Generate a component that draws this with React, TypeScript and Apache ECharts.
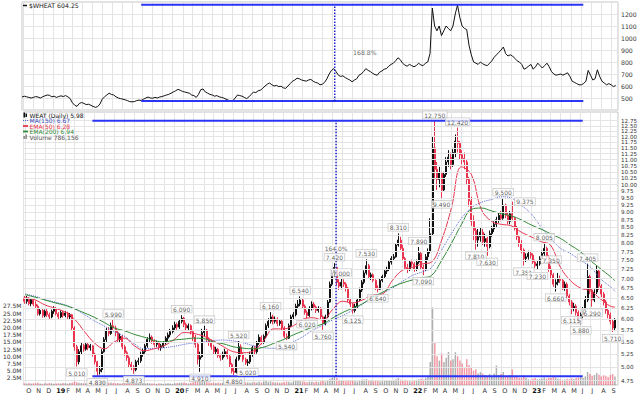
import React, { useEffect, useRef } from 'react';
import * as echarts from 'echarts';

const FONT = 'DejaVu Sans';
const RED = '#e8344e';
const GREEN = '#2f8a35';
const MA_BLUE = '#5566d0';
const LINE_BLUE = '#2b35f5';
const GRID = '#e4e4e4';
const DAY = 86400000;

const X_MIN = '2018-09-28';
const X_MAX = '2023-09-22';

const monthLetters = ['J', 'F', 'M', 'A', 'M', 'J', 'J', 'A', 'S', 'O', 'N', 'D'];

// Weekly WEAT bars (week ending Friday, from 2018-09-28): [open, close, low, high]
const weatOHLC: number[][] = [
  [6.50,6.42,6.36,6.55],
  [6.42,6.48,6.36,6.55],[6.48,6.36,6.32,6.52],[6.36,6.46,6.30,6.50],[6.46,6.35,6.30,6.50],
  [6.35,6.30,6.24,6.42],[6.30,6.12,6.08,6.34],[6.12,6.20,6.08,6.26],[6.20,6.08,6.03,6.24],[6.08,6.18,6.04,6.22],
  [6.18,6.10,6.05,6.24],[6.10,6.05,6.00,6.15],[6.05,6.18,6.02,6.22],[6.18,6.25,6.12,6.30],
  // 2019
  [6.25,6.12,6.08,6.28],[6.12,6.05,6.00,6.16],[6.05,6.15,6.02,6.20],[6.15,6.08,6.03,6.19],
  [6.08,6.14,6.04,6.18],[6.14,6.05,6.00,6.17],[6.05,6.10,6.00,6.14],[6.10,5.80,5.74,6.12],
  [5.80,5.40,5.32,5.84],[5.40,5.10,5.01,5.44],[5.10,5.30,5.05,5.35],[5.30,5.42,5.25,5.48],[5.42,5.35,5.30,5.46],
  [5.35,5.45,5.32,5.50],[5.45,5.38,5.33,5.48],[5.38,5.42,5.32,5.46],[5.42,5.25,5.20,5.44],
  [5.25,5.10,5.05,5.28],[5.10,4.92,4.83,5.12],[4.92,4.95,4.86,5.02],[4.95,5.30,4.90,5.35],[5.30,5.55,5.28,5.60],
  [5.55,5.75,5.50,5.80],[5.75,5.68,5.62,5.82],[5.68,5.85,5.65,5.92],[5.85,5.80,5.74,5.99],
  [5.80,5.70,5.62,5.85],[5.70,5.55,5.50,5.74],[5.55,5.62,5.48,5.68],[5.62,5.40,5.35,5.65],
  [5.40,5.28,5.22,5.44],[5.28,5.18,5.12,5.32],[5.18,5.05,5.00,5.22],[5.05,5.00,4.94,5.10],[5.00,4.95,4.873,5.04],
  [4.95,5.10,4.92,5.14],[5.10,5.12,5.04,5.18],[5.12,5.25,5.08,5.30],[5.25,5.30,5.20,5.36],
  [5.30,5.42,5.26,5.46],[5.42,5.55,5.38,5.60],[5.55,5.60,5.50,5.68],[5.60,5.52,5.46,5.64],
  [5.52,5.45,5.40,5.56],[5.45,5.48,5.40,5.53],[5.48,5.38,5.33,5.52],[5.38,5.42,5.32,5.46],[5.42,5.48,5.38,5.52],
  [5.48,5.58,5.44,5.62],[5.58,5.65,5.52,5.70],[5.65,5.72,5.60,5.78],[5.72,5.80,5.68,5.86],
  // 2020
  [5.80,5.88,5.75,5.94],[5.88,5.82,5.76,5.92],[5.82,5.95,5.78,6.00],[5.95,6.02,5.90,6.09],[6.02,5.88,5.82,6.05],
  [5.88,5.80,5.74,5.92],[5.80,5.85,5.75,5.90],[5.85,5.72,5.66,5.88],[5.72,5.60,5.52,5.76],
  [5.60,5.45,5.38,5.65],[5.45,5.15,5.05,5.48],[5.15,5.20,4.91,5.30],[5.20,5.70,5.18,5.78],
  [5.70,5.75,5.62,5.85],[5.75,5.55,5.50,5.78],[5.55,5.50,5.42,5.60],[5.50,5.40,5.34,5.54],
  [5.40,5.30,5.24,5.44],[5.30,5.35,5.25,5.40],[5.35,5.22,5.18,5.38],[5.22,5.18,5.12,5.26],[5.18,5.25,5.14,5.30],
  [5.25,5.30,5.20,5.36],[5.30,5.20,5.15,5.34],[5.20,5.05,5.00,5.24],[5.05,4.92,4.88,5.08],
  [4.92,4.90,4.85,4.98],[4.90,5.15,4.88,5.20],[5.15,5.40,5.12,5.52],[5.40,5.25,5.20,5.45],[5.25,5.15,5.10,5.28],
  [5.15,5.08,5.04,5.18],[5.08,5.10,5.02,5.15],[5.10,5.25,5.06,5.30],[5.25,5.38,5.20,5.42],
  [5.38,5.30,5.25,5.42],[5.30,5.48,5.26,5.52],[5.48,5.60,5.44,5.66],[5.60,5.50,5.45,5.64],
  [5.50,5.62,5.46,5.66],[5.62,5.85,5.58,5.90],[5.85,5.95,5.80,6.02],[5.95,6.05,5.90,6.16],[6.05,5.95,5.88,6.10],
  [5.95,6.00,5.90,6.06],[6.00,5.90,5.84,6.04],[5.90,5.95,5.85,6.00],[5.95,5.80,5.74,5.98],
  [5.80,5.62,5.58,5.84],[5.62,5.58,5.54,5.68],[5.58,5.85,5.56,5.90],[5.85,6.05,5.82,6.10],
  // 2021
  [6.05,6.10,6.00,6.16],[6.10,6.30,6.06,6.36],[6.30,6.35,6.24,6.45],[6.35,6.45,6.30,6.54],[6.45,6.30,6.24,6.48],
  [6.30,6.15,6.10,6.34],[6.15,6.08,6.02,6.20],[6.08,6.25,6.05,6.30],[6.25,6.35,6.20,6.42],
  [6.35,6.28,6.22,6.40],[6.28,6.20,6.14,6.32],[6.20,6.25,6.15,6.30],[6.25,6.05,6.00,6.28],
  [6.05,5.90,5.76,6.08],[5.90,6.05,5.86,6.10],[6.05,6.40,6.02,6.45],[6.40,6.85,6.38,6.92],[6.85,7.15,6.80,7.25],
  [7.15,7.30,7.05,7.42],[7.30,6.90,6.82,7.32],[6.90,6.80,6.70,6.98],[6.80,6.90,6.72,7.00],
  [6.90,6.85,6.78,6.98],[6.85,6.75,6.66,6.90],[6.75,6.45,6.40,6.78],[6.45,6.35,6.28,6.50],
  [6.35,6.20,6.125,6.38],[6.20,6.30,6.15,6.36],[6.30,6.45,6.25,6.50],[6.45,6.70,6.42,6.76],[6.70,6.90,6.65,6.96],
  [6.90,7.15,6.85,7.22],[7.15,7.35,7.10,7.53],[7.35,7.05,7.00,7.40],[7.05,7.10,6.96,7.16],
  [7.10,6.95,6.90,7.14],[6.95,6.75,6.70,6.98],[6.75,6.72,6.64,6.82],[6.72,6.95,6.70,7.00],
  [6.95,7.05,6.90,7.10],[7.05,7.20,7.00,7.26],[7.20,7.25,7.12,7.32],[7.25,7.45,7.20,7.50],[7.45,7.55,7.38,7.62],
  [7.55,7.60,7.48,7.68],[7.60,7.95,7.58,8.00],[7.95,8.10,7.90,8.31],[8.10,7.85,7.80,8.20],
  [7.85,7.55,7.50,7.95],[7.55,7.30,7.25,7.60],[7.30,7.25,7.15,7.40],[7.25,7.45,7.20,7.50],[7.45,7.40,7.32,7.52],
  // 2022
  [7.40,7.25,7.18,7.45],[7.25,7.45,7.20,7.52],[7.45,7.70,7.40,7.89],[7.70,7.30,7.25,7.75],
  [7.30,7.25,7.09,7.38],[7.25,7.60,7.20,7.68],[7.60,7.75,7.50,7.85],[7.75,8.30,7.70,8.80],
  [8.30,11.50,8.25,12.00],[11.50,10.60,10.20,12.75],[10.60,10.20,9.80,10.90],[10.20,10.45,9.90,10.70],
  [10.45,9.80,9.49,10.50],[9.80,10.40,9.75,10.50],[10.40,10.90,10.30,11.10],[10.90,11.10,10.70,11.40],[11.10,10.80,10.60,11.30],
  [10.80,11.30,10.70,11.50],[11.30,11.80,11.10,12.10],[11.80,11.70,11.30,12.42],[11.70,11.20,11.00,11.80],
  [11.20,11.05,10.80,11.40],[11.05,10.90,10.60,11.30],[10.90,10.20,10.00,11.00],[10.20,9.40,9.20,10.30],
  [9.40,8.70,8.55,9.55],[8.70,8.40,8.10,8.90],[8.40,8.10,7.81,8.50],[8.10,8.20,7.90,8.45],[8.20,8.35,8.05,8.50],
  [8.35,8.05,7.95,8.45],[8.05,8.15,7.90,8.30],[8.15,7.90,7.63,8.20],[7.90,8.30,7.85,8.40],
  [8.30,8.45,8.20,8.55],[8.45,8.60,8.35,8.70],[8.60,8.75,8.50,8.85],[8.75,8.90,8.65,9.00],[8.90,8.80,8.70,9.05],
  [8.80,9.25,8.75,9.50],[9.25,8.90,8.80,9.30],[8.90,8.70,8.60,9.00],[8.70,8.95,8.60,9.05],
  [8.95,8.80,8.70,9.375],[8.80,8.50,8.40,8.85],[8.50,8.20,8.10,8.55],[8.20,8.00,7.90,8.25],
  [8.00,7.80,7.70,8.10],[7.80,7.55,7.351,7.85],[7.55,7.60,7.45,7.70],[7.60,7.70,7.52,7.78],[7.70,7.65,7.55,7.75],
  // 2023
  [7.65,7.45,7.40,7.70],[7.45,7.35,7.28,7.52],[7.35,7.40,7.23,7.48],[7.40,7.55,7.35,7.62],
  [7.55,7.70,7.48,7.78],[7.70,7.85,7.62,8.005],[7.85,7.60,7.52,7.90],[7.60,7.25,7.18,7.65],
  [7.25,7.10,7.00,7.35],[7.10,6.85,6.78,7.15],[6.85,6.90,6.66,6.98],[6.90,7.00,6.82,7.15],[7.00,6.95,6.88,7.08],
  [6.95,6.75,6.70,7.00],[6.75,6.85,6.68,6.92],[6.85,6.55,6.50,6.90],[6.55,6.40,6.32,6.60],
  [6.40,6.25,6.115,6.45],[6.25,6.30,6.18,6.38],[6.30,6.15,6.08,6.35],[6.15,6.00,5.92,6.20],
  [6.00,6.10,5.88,6.15],[6.10,6.20,6.02,6.28],[6.20,6.45,6.15,6.55],[6.45,7.05,6.40,7.405],[7.05,6.70,6.60,7.10],
  [6.70,6.45,6.29,6.75],[6.45,6.65,6.40,6.72],[6.65,7.20,6.60,7.35],[7.20,6.80,6.70,7.25],
  [6.80,6.60,6.52,6.85],[6.60,6.40,6.32,6.65],[6.40,6.20,6.12,6.45],[6.20,6.10,6.02,6.25],
  [6.10,5.95,5.88,6.15],[5.95,5.80,5.71,6.00],[5.80,5.98,5.75,6.02],
];

// Weekly WEAT volume, millions of shares
const weatVolumeM: number[] = [
  0.6, 0.5,0.7,0.5,0.6, 0.6,0.8,0.5,0.4,0.6, 0.5,0.7,0.6,0.4,
  0.5,0.6,0.5,0.7, 0.6,0.5,0.7,0.9, 1.2,1.0,0.8,0.7,0.6, 0.6,0.5,0.7,0.6, 0.8,1.1,1.0,1.3,1.2, 1.0,0.8,0.9,0.7,
  0.6,0.7,0.5,0.6, 0.7,0.6,0.8,0.7,0.9, 0.7,0.6,0.5,0.6, 0.5,0.7,0.6,0.5, 0.5,0.4,0.6,0.5,0.4, 0.5,0.6,0.5,0.4,
  0.6,0.7,0.8,0.9,0.8, 0.7,0.6,0.8,0.9, 1.2,1.6,1.8,1.5, 1.2,1.0,0.9,0.8, 0.8,0.7,0.9,0.7,0.8, 0.9,0.8,1.0,1.2,
  1.1,1.3,1.0,0.9,0.8, 0.9,1.0,0.8,0.9, 1.0,0.9,1.1,0.9, 1.2,1.4,1.1,1.3,1.0, 0.9,1.0,0.8,0.9, 1.0,1.2,1.1,0.9,
  1.2,1.6,1.4,1.3,1.2, 1.1,1.0,1.2,1.1, 1.0,1.2,1.1,1.3, 1.4,1.2,1.6,2.2,2.4, 2.8,2.5,1.8,1.5, 1.4,1.3,1.6,1.4,
  1.5,1.3,1.2,1.6,1.8, 1.9,2.1,1.6,1.4, 1.3,1.5,1.4,1.2, 1.3,1.5,1.4,1.7,1.6, 1.8,2.0,2.4,1.9, 1.7,1.8,1.6,1.3,1.2,
  1.6,1.8,2.0,2.2, 1.9,2.4,2.8,8.0, 27.0,15.0,10.0,8.5, 11.0,8.0,9.5,11.5,8.5, 9.0,11.4,10.0,8.5, 7.5,6.0,9.0,7.0,
  6.0,5.0,5.5,4.0,4.5, 4.0,3.5,3.0,3.8, 3.2,4.0,6.8,3.5,3.8, 4.5,3.2,3.0,3.5, 5.4,3.0,2.8,2.5, 2.4,3.3,2.5,2.0,1.8,
  2.2,2.4,2.0,2.1, 2.3,2.6,2.2,2.5, 2.4,2.8,2.6,2.2,2.0, 1.8,1.9,2.2,2.0, 2.3,2.1,2.4,2.6, 2.8,2.5,3.0,4.5,3.8,
  3.2,3.5,4.2,3.6, 3.0,3.4,3.2,2.8, 3.5,3.8,3.0,
];

// Weekly $WHEAT close, cents
const wheatClose: number[] = [
  508, 515,510,505,500, 505,512,508,500,510, 518,525,522,510,
  515,505,512,518, 512,520,510,495, 460,440,430,455,462, 455,445,448,440, 430,422,428,450,490, 510,525,540,530,
  525,510,500,495, 490,485,478,470,468, 470,478,482,480, 490,500,508,500, 498,505,500,508,512, 518,525,530,540,
  550,560,572,565,555, 550,545,540,525, 520,505,530,570, 575,550,540,530, 525,515,520,510,505, 500,490,482,475,
  478,500,525,520,515, 505,495,510,530, 550,545,560,565, 580,600,615,625,610, 600,605,595,598, 585,580,600,620,
  640,650,665,660,650, 645,640,650,655, 640,630,625,610, 615,630,660,700,730, 745,720,690,680, 685,670,660,650,
  635,650,660,690,700, 720,745,730,720, 705,695,690,715, 725,740,745,765,780, 790,810,835,820, 790,775,765,780,770,
  760,770,790,775, 770,790,800,870, 1250,1100,1060,1100, 1020,1060,1100,1080,1060, 1100,1200,1275,1170, 1100,1080,1070,940,
  860,800,790,780,800, 785,775,770,790, 810,840,860,880,900, 925,870,850,860, 850,830,810,800, 780,740,750,765,780,
  740,760,790,770, 750,770,790,760, 720,700,690,695,700, 690,700,710,680, 640,630,620,610, 610,620,640,730,690,
  650,660,735,680, 640,625,610,620, 610,595,604,
];

// Moving averages read at the 1st of each month (Oct 2018 .. Sep 2023), then 2023-09-15
const ema50: number[] = [
  6.52,6.45,6.33, 6.25,6.16,6.00,5.72,5.48,5.36,5.50,5.58,5.42,5.32,5.36,5.42,
  5.55,5.70,5.68,5.62,5.52,5.40,5.30,5.28,5.32,5.52,5.78,5.78,
  5.85,6.00,6.03,5.98,6.22,6.42,6.38,6.45,6.57,6.60,6.95,7.22,
  7.30,7.40,7.45,8.10,9.15,10.70,10.40,9.10,8.70,8.60,8.55,8.35,
  8.20,8.05,7.95,7.30,6.95,6.75,6.68,6.48,6.30, 6.28,
];
const ma150: number[] = [
  6.60,6.54,6.46, 6.40,6.33,6.24,6.10,5.96,5.84,5.72,5.62,5.46,5.36,5.37,5.38,
  5.41,5.45,5.48,5.50,5.53,5.54,5.52,5.48,5.42,5.38,5.37,5.38,
  5.50,5.62,5.75,5.86,5.98,6.08,6.20,6.35,6.50,6.62,6.75,6.92,
  7.08,7.18,7.30,7.80,8.30,8.80,9.15,9.35,9.45,9.55,9.50,9.25,
  8.95,8.50,8.15,7.85,7.70,7.50,7.32,7.00,6.78, 6.67,
];
const ema200: number[] = [
  6.58,6.52,6.45, 6.38,6.32,6.24,6.14,6.04,5.92,5.80,5.74,5.66,5.60,5.53,5.50,
  5.54,5.56,5.58,5.57,5.50,5.46,5.40,5.37,5.36,5.39,5.47,5.55,
  5.65,5.74,5.82,5.89,6.02,6.15,6.25,6.36,6.52,6.64,6.78,6.88,
  6.96,7.02,7.08,7.50,8.00,8.60,9.10,9.15,9.05,8.96,8.88,8.75,
  8.58,8.44,8.30,8.15,7.95,7.75,7.50,7.27,7.05, 6.94,
];

// Price-axis tick labels (log scale)
const priceTicks: number[] = [
  12.75,12.50,12.25,12.00,11.75,11.50,11.25,11.00,10.75,10.50,10.25,10.00,9.75,9.50,9.25,9.00,
  8.75,8.50,8.25,8.00,7.75,7.50,7.25,7.00,6.75,6.50,6.25,6.00,5.75,5.50,5.25,5.00,4.75,
];

// Labeled swing highs / lows [date, price]
const highMarks: [string, number][] = [
  ['2019-06-28',5.99],['2020-01-24',6.09],['2020-04-03',5.85],['2020-07-17',5.52],['2020-10-23',6.16],
  ['2021-01-22',6.54],['2021-05-07',7.42],['2021-05-28',7.00],['2021-08-13',7.53],['2021-11-19',8.31],
  ['2022-01-21',7.89],['2022-03-11',12.75],['2022-05-20',12.42],['2022-10-07',9.50],['2022-11-04',9.375],
  ['2023-02-10',8.005],['2023-03-03',7.35],['2023-06-23',7.405],
];
const lowMarks: [string, number][] = [
  ['2019-03-08',5.01],['2019-05-10',4.83],['2019-08-30',4.873],['2020-03-20',4.91],['2020-07-03',4.85],
  ['2020-08-14',5.02],['2020-12-11',5.54],['2021-02-12',6.02],['2021-04-02',5.76],['2021-07-02',6.125],
  ['2021-09-17',6.64],['2022-02-04',7.09],['2022-04-01',9.49],['2022-07-15',7.81],['2022-08-19',7.63],
  ['2022-12-09',7.351],['2023-01-20',7.23],['2023-03-17',6.66],['2023-05-05',6.115],['2023-06-02',5.88],
  ['2023-07-07',6.29],['2023-09-08',5.71],
];
// label side overrides (styling) for crowded annotations
const labelSide: Record<string, string> = { '2022-11-04': 'right' };

// Drawn range annotations
const wheatRange = { start: '2019-09-27', end: '2023-06-08', low: 475, high: 1277, pivot: '2021-05-10', pct: '168.8%', textAt: '2021-08-10', textLevel: 883 };
const weatRange = { start: '2019-04-25', end: '2023-06-08', low: 4.83, high: 12.75, pivot: '2021-05-12', pct: '164.0%', textAt: '2021-05-12', textLevel: 7.86 };

const topLegend = '$WHEAT 604.25';
const legendRows = [
  { text: 'WEAT (Daily) 5.98', color: '#111', icon: 'candle' },
  { text: 'MA(150) 6.67', color: '#3646b8', icon: 'dotted' },
  { text: 'EMA(50) 6.28', color: RED, icon: 'red' },
  { text: 'EMA(200) 6.94', color: GREEN, icon: 'green' },
  { text: 'Volume 786,156', color: '#555', icon: 'volume' },
];

function weekTime(i: number) {
  return new Date(2018, 8, 28 + 7 * i).getTime();
}
function maTime(i: number) {
  return i < 60 ? new Date(2018, 9 + i, 1).getTime() : new Date(2023, 8, 15).getTime();
}

function txt(x: number, y: number, text: string, fill: string, size = 6.2, weight = 'normal') {
  return {
    type: 'text', x, y, silent: true, z: 50,
    style: { text, fill, fontSize: size, fontFamily: FONT, fontWeight: weight, verticalAlign: 'middle', textVerticalAlign: 'middle', align: 'left', textAlign: 'left' },
  };
}
function seg(x1: number, y1: number, x2: number, y2: number, stroke: string, lineWidth = 1.5, lineDash?: number[]) {
  return { type: 'line', silent: true, z: 50, shape: { x1, y1, x2, y2 }, style: { stroke, lineWidth, lineDash } };
}

export default function App() {
  const ref = useRef<HTMLDivElement>(null);

  useEffect(() => {
    const chart = echarts.init(ref.current as HTMLDivElement, null, { renderer: 'svg' });

    const candleData = weatOHLC.map((b, i) => [weekTime(i), b[0], b[1], b[2], b[3]]);
    const volData = weatVolumeM.map((v, i) => {
      const b = weatOHLC[i];
      const up = b[1] >= b[0];
      return { value: [weekTime(i), v], itemStyle: { color: up ? 'rgba(110,110,110,0.55)' : 'rgba(232,52,78,0.5)' } };
    });
    const wheatData = wheatClose.map((v, i) => [weekTime(i), v]);
    const maSeries = (vals: number[]) => vals.map((v, i) => [maTime(i), v]);
    const markData = (marks: [string, number][]) =>
      marks.map((m) => (labelSide[m[0]] ? { value: [m[0], m[1]], label: { position: labelSide[m[0]] } } : { value: [m[0], m[1]] }));

    const monthFormatter = (value: number) => {
      const d = new Date(value);
      const m = d.getMonth();
      return m === 0 ? `{y|${String(d.getFullYear()).slice(2)}}` : monthLetters[m];
    };

    const markLabel = (pos: string) => ({
      show: true,
      position: pos,
      distance: 2,
      formatter: (p: any) => Number(p.value[1]).toFixed(3),
      fontSize: 6,
      fontFamily: FONT,
      color: '#333',
      backgroundColor: 'rgba(255,255,255,0.92)',
      borderColor: '#b8b8b8',
      borderWidth: 0.6,
      padding: [1, 1.5, 0, 1.5],
    });

    const graphic: any[] = [
      seg(23, 5.5, 27, 5.5, '#111', 1.5),
      txt(29, 5.5, topLegend, '#222'),
    ];
    legendRows.forEach((r, i) => {
      const y = 115 + i * 5.5;
      if (r.icon === 'candle') {
        graphic.push({ type: 'rect', silent: true, z: 50, shape: { x: 23.5, y: y - 2.5, width: 1.5, height: 5 }, style: { fill: '#111' } });
        graphic.push({ type: 'rect', silent: true, z: 50, shape: { x: 25.5, y: y - 1.5, width: 1.5, height: 3.5 }, style: { fill: '#111' } });
      } else if (r.icon === 'dotted') {
        graphic.push(seg(23, y, 28, y, MA_BLUE, 1.2, [1, 1]));
      } else if (r.icon === 'red') {
        graphic.push(seg(23, y, 28, y, RED, 1.8));
      } else if (r.icon === 'green') {
        graphic.push(seg(23, y, 28, y, GREEN, 1.8));
      } else {
        graphic.push({ type: 'rect', silent: true, z: 50, shape: { x: 23.5, y: y - 1, width: 1.3, height: 3 }, style: { fill: '#777' } });
        graphic.push({ type: 'rect', silent: true, z: 50, shape: { x: 25.5, y: y - 2.5, width: 1.3, height: 4.5 }, style: { fill: '#777' } });
      }
      graphic.push(txt(29.5, y, r.text, r.color, 6));
    });

    const option: any = {
      animation: false,
      backgroundColor: '#ffffff',
      textStyle: { fontFamily: FONT },
      grid: [
        { left: 22, right: 22, top: 2, height: 108, show: true, borderColor: '#c4c4c4', borderWidth: 1, backgroundColor: 'transparent' },
        { left: 22, right: 22, top: 112, height: 273, show: true, borderColor: '#c4c4c4', borderWidth: 1, backgroundColor: 'transparent' },
      ],
      xAxis: [
        {
          type: 'time', gridIndex: 0, min: X_MIN, max: X_MAX, splitNumber: 60, minInterval: 28 * DAY, maxInterval: 31 * DAY,
          axisLabel: { show: false }, axisTick: { show: false }, axisLine: { show: false },
          splitLine: { show: true, lineStyle: { color: GRID, width: 1 } },
        },
        {
          type: 'time', gridIndex: 1, min: X_MIN, max: X_MAX, splitNumber: 60, minInterval: 28 * DAY, maxInterval: 31 * DAY,
          axisLabel: {
            show: true, formatter: monthFormatter, fontSize: 6.5, color: '#333', align: 'left', margin: 2,
            padding: [0, 0, 0, 1], fontFamily: FONT,
            rich: { y: { fontWeight: 'bold', fontSize: 6.5, color: '#111', fontFamily: FONT } },
          },
          axisTick: { show: false }, axisLine: { show: false },
          splitLine: { show: true, lineStyle: { color: GRID, width: 1 } },
        },
      ],
      yAxis: [
        {
          type: 'value', gridIndex: 0, min: 400, max: 1300, interval: 100, position: 'right',
          axisLabel: { formatter: (v: number) => (v >= 500 && v <= 1200 ? String(v) : ''), fontSize: 6.2, color: '#333', margin: 3, fontFamily: FONT },
          splitLine: { show: true, lineStyle: { color: GRID } }, axisLine: { show: false }, axisTick: { show: false },
        },
        {
          type: 'log', gridIndex: 1, min: 4.67, max: 13.18, position: 'right',
          axisLabel: { show: false }, splitLine: { show: false }, axisLine: { show: false }, axisTick: { show: false },
        },
        {
          type: 'value', gridIndex: 1, min: 0, max: 95, interval: 2.5, position: 'left',
          axisLabel: { formatter: (v: number) => (v > 0 && v <= 27.5 ? v.toFixed(1) + 'M' : ''), fontSize: 6, color: '#333', margin: 2, fontFamily: FONT },
          splitLine: { show: false }, axisLine: { show: false }, axisTick: { show: false },
        },
      ],
      series: [
        // ---------- top panel ----------
        {
          type: 'line', name: '$WHEAT', xAxisIndex: 0, yAxisIndex: 0, data: wheatData, symbol: 'none',
          lineStyle: { color: '#111', width: 1 }, silent: true, z: 3,
        },
        {
          type: 'line', xAxisIndex: 0, yAxisIndex: 0, symbol: 'none', silent: true, z: 4,
          data: [[wheatRange.start, wheatRange.high], [wheatRange.end, wheatRange.high]],
          lineStyle: { color: LINE_BLUE, width: 2 },
        },
        {
          type: 'line', xAxisIndex: 0, yAxisIndex: 0, symbol: 'none', silent: true, z: 4,
          data: [[wheatRange.start, wheatRange.low], [wheatRange.end, wheatRange.low]],
          lineStyle: { color: LINE_BLUE, width: 2 },
        },
        {
          type: 'line', xAxisIndex: 0, yAxisIndex: 0, symbol: 'none', silent: true, z: 4,
          data: [[wheatRange.pivot, wheatRange.low], [wheatRange.pivot, wheatRange.high]],
          lineStyle: { color: '#1f1fc8', width: 1.5, type: 'dotted' },
        },
        {
          type: 'scatter', xAxisIndex: 0, yAxisIndex: 0, symbolSize: 1, itemStyle: { color: 'transparent' }, silent: true, z: 6,
          data: [{ name: wheatRange.pct, value: [wheatRange.textAt, wheatRange.textLevel] }],
          label: { show: true, position: 'inside', formatter: '{b}', fontSize: 6.2, color: '#333', fontFamily: FONT },
        },
        // ---------- bottom panel ----------
        {
          type: 'line', xAxisIndex: 1, yAxisIndex: 1, data: [[X_MIN, 6]], symbol: 'none', silent: true, z: 1,
          lineStyle: { opacity: 0 },
          markLine: {
            silent: true, symbol: ['none', 'none'], animation: false,
            lineStyle: { color: GRID, width: 1, type: 'solid' },
            label: { show: true, position: 'end', distance: 3, formatter: (p: any) => Number(p.value).toFixed(2), fontSize: 5.6, color: '#333', fontFamily: FONT },
            emphasis: { disabled: true },
            data: priceTicks.map((v) => ({ yAxis: v })),
          },
        },
        {
          type: 'bar', name: 'Volume', xAxisIndex: 1, yAxisIndex: 2, data: volData, barWidth: 1.5, silent: true, z: 2,
        },
        {
          type: 'candlestick', name: 'WEAT', xAxisIndex: 1, yAxisIndex: 1, data: candleData, barWidth: 1.5, silent: true, z: 3,
          itemStyle: { color: '#111', color0: RED, borderColor: '#111', borderColor0: RED, borderWidth: 1 },
        },
        {
          type: 'line', name: 'MA(150)', xAxisIndex: 1, yAxisIndex: 1, data: maSeries(ma150), symbol: 'none', smooth: 0.4, silent: true, z: 4,
          lineStyle: { color: MA_BLUE, width: 1, type: 'dotted' },
        },
        {
          type: 'line', name: 'EMA(50)', xAxisIndex: 1, yAxisIndex: 1, data: maSeries(ema50), symbol: 'none', smooth: 0.4, silent: true, z: 4,
          lineStyle: { color: RED, width: 1 },
        },
        {
          type: 'line', name: 'EMA(200)', xAxisIndex: 1, yAxisIndex: 1, data: maSeries(ema200), symbol: 'none', smooth: 0.4, silent: true, z: 4,
          lineStyle: { color: GREEN, width: 1 },
        },
        {
          type: 'line', xAxisIndex: 1, yAxisIndex: 1, symbol: 'none', silent: true, z: 5,
          data: [[weatRange.start, weatRange.high], [weatRange.end, weatRange.high]],
          lineStyle: { color: LINE_BLUE, width: 2 },
        },
        {
          type: 'line', xAxisIndex: 1, yAxisIndex: 1, symbol: 'none', silent: true, z: 5,
          data: [[weatRange.start, weatRange.low], [weatRange.end, weatRange.low]],
          lineStyle: { color: LINE_BLUE, width: 2 },
        },
        {
          type: 'line', xAxisIndex: 1, yAxisIndex: 1, symbol: 'none', silent: true, z: 5,
          data: [[weatRange.pivot, weatRange.low], [weatRange.pivot, weatRange.high]],
          lineStyle: { color: '#1f1fc8', width: 1.5, type: 'dotted' },
        },
        {
          type: 'scatter', xAxisIndex: 1, yAxisIndex: 1, symbolSize: 1, itemStyle: { color: 'transparent' }, silent: true, z: 8,
          data: [{ name: weatRange.pct, value: [weatRange.textAt, weatRange.textLevel] }],
          label: { show: true, position: 'inside', formatter: '{b}', fontSize: 6, color: '#333', fontFamily: FONT, backgroundColor: 'rgba(255,255,255,0.85)' },
        },
        {
          type: 'scatter', xAxisIndex: 1, yAxisIndex: 1, symbolSize: 1, itemStyle: { color: 'transparent' }, silent: true, z: 9,
          data: markData(highMarks), label: markLabel('top'),
        },
        {
          type: 'scatter', xAxisIndex: 1, yAxisIndex: 1, symbolSize: 1, itemStyle: { color: 'transparent' }, silent: true, z: 9,
          data: markData(lowMarks), label: markLabel('bottom'),
        },
      ],
      graphic,
    };

    chart.setOption(option);
    return () => chart.dispose();
  }, []);

  return (
    <div
      ref={ref}
      style={{ position: 'fixed', left: 0, top: 0, width: 640, height: 394, background: '#fff' }}
    />
  );
}
